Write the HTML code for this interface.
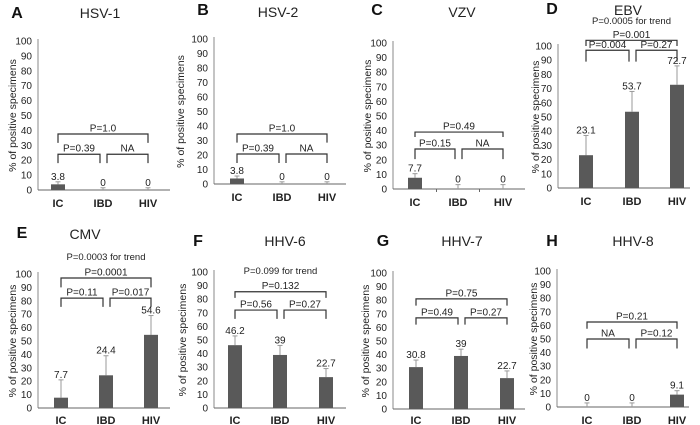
<!DOCTYPE html>
<html><head><meta charset="utf-8"><style>
html,body{margin:0;padding:0;background:#fff;}
svg{display:block;font-family:"Liberation Sans",Arial,sans-serif;}
</style></head><body>
<svg id="fig" width="700" height="425" viewBox="0 0 700 425" xmlns="http://www.w3.org/2000/svg"></svg>
<script>
const categories = ["IC","IBD","HIV"];
const tickLabels = ["0","10","20","30","40","50","60","70","80","90","100"];
const titles = ["HSV-1","HSV-2","VZV","EBV","CMV","HHV-6","HHV-7","HHV-8"];
const letters = ["A","B","C","D","E","F","G","H"];
const valuesA = [3.8,0,0], errA = [5.5,1.5,1.5];
const valuesB = [3.8,0,0], errB = [5.5,1.5,1.5];
const valuesC = [7.7,0,0], errC = [10.5,3,3];
const valuesD = [23.1,53.7,72.7], errD = [37,68,86];
const valuesE = [7.7,24.4,54.6], errE = [21,39,69];
const valuesF = [46.2,39,22.7], errF = [53,46,29];
const valuesG = [30.8,39,22.7], errG = [36,44,28];
const valuesH = [0,0,9.1], errH = [3,3,12];
const valueLabelsA = ["3.8","0","0"], valueLabelsB = ["3.8","0","0"], valueLabelsC = ["7.7","0","0"];
const valueLabelsD = ["23.1","53.7","72.7"], valueLabelsE = ["7.7","24.4","54.6"];
const valueLabelsF = ["46.2","39","22.7"], valueLabelsG = ["30.8","39","22.7"], valueLabelsH = ["0","0","9.1"];
// brackets: [from, to, level, legBottom, label]
const bracketsA = [[0,1,24,18,"P=0.39"],[1,2,24,18,"NA"],[0,2,37.6,31.6,"P=1.0"]];
const bracketsB = [[0,1,20.7,14.5,"P=0.39"],[1,2,20.7,14.5,"NA"],[0,2,34.5,28.5,"P=1.0"]];
const bracketsC = [[0,1,27.4,20.5,"P=0.15"],[1,2,27.4,20.5,"NA"],[0,2,39,35.6,"P=0.49"]];
const bracketsD = [[0,1,97,89,"P=0.004"],[1,2,97,89,"P=0.27"],[0,2,104,100,"P=0.001"]];
const bracketsE = [[0,1,82,75.5,"P=0.11"],[1,2,82,75.5,"P=0.017"],[0,2,97,90,"P=0.0001"]];
const bracketsF = [[0,1,72,65.5,"P=0.56"],[1,2,72,65.5,"P=0.27"],[0,2,85.5,81,"P=0.132"]];
const bracketsG = [[0,1,67,62,"P=0.49"],[1,2,67,62,"P=0.27"],[0,2,81,76,"P=0.75"]];
const bracketsH = [[0,1,50,43,"NA"],[1,2,50,43,"P=0.12"],[0,2,62.5,57.5,"P=0.21"]];
const trendLabels = ["","","","P=0.0005 for trend","P=0.0003 for trend","P=0.099 for trend","",""];

const values=[valuesA,valuesB,valuesC,valuesD,valuesE,valuesF,valuesG,valuesH];
const errs=[errA,errB,errC,errD,errE,errF,errG,errH];
const vlabels=[valueLabelsA,valueLabelsB,valueLabelsC,valueLabelsD,valueLabelsE,valueLabelsF,valueLabelsG,valueLabelsH];
const brackets=[bracketsA,bracketsB,bracketsC,bracketsD,bracketsE,bracketsF,bracketsG,bracketsH];
const layout=[
 {ax:38,y0:190,y1:41,cx:[58,103,148],yl:12,lx:17,ly:18,tx:100,ty:18,cy:207,tr:0},
 {ax:214,y0:184,y1:39,cx:[237,282,327],yl:180,lx:203,ly:15,tx:278,ty:17,cy:201,tr:0},
 {ax:393,y0:189,y1:43,cx:[415,458,503],yl:367,lx:377,ly:15,tx:462,ty:17,cy:206,tr:0,ticks:true},
 {ax:558,y0:188,y1:46,cx:[586,632,677],yl:535,lx:552,ly:14,tx:628,ty:15,cy:205,tr:24},
 {ax:38,y0:408,y1:274,cx:[61,106,151],yl:12,lx:22,ly:238,tx:85,ty:239,cy:424,tr:260},
 {ax:214,y0:408,y1:272,cx:[235,280,326],yl:182,lx:198,ly:246,tx:285,ty:246,cy:424,tr:274},
 {ax:393,y0:409,y1:273,cx:[416,461,507],yl:365,lx:383,ly:246,tx:462,ty:246,cy:424,tr:0},
 {ax:557,y0:407,y1:271,cx:[587,632,677],yl:533,lx:552,ly:246,tx:633,ty:246,cy:424,tr:0}
];
const NS="http://www.w3.org/2000/svg";
const svg=document.getElementById('fig');
function mk(tag,attrs,parent,text){const e=document.createElementNS(NS,tag);for(const k in attrs)e.setAttribute(k,attrs[k]);if(text!==undefined)e.textContent=text;(parent||svg).appendChild(e);return e;}
layout.forEach((L,p)=>{
  const g=mk('g',{});
  
  
  const y=v=>L.y0-(L.y0-L.y1)*v/100;
  const t1=mk('text',{x:L.lx,y:L.ly,'font-size':16,'font-weight':'bold','text-anchor':'middle',fill:'#111'},g,letters[p]);
  
  
  const t2=mk('text',{x:L.tx,y:L.ty,'font-size':14,'text-anchor':'middle',fill:'#222'},g,titles[p]);
  
  
  if(trendLabels[p]){const tt=mk('text',{x:(L.cx[0]+L.cx[2])/2,y:L.tr,'font-size':9.5,'text-anchor':'middle',fill:'#222'},g,trendLabels[p]);
    
    }
  const yl=mk('text',{x:0,y:0,'font-size':10.5,'text-anchor':'middle',fill:'#222',transform:`translate(${L.yl+4},${(L.y0+L.y1)/2}) rotate(-90)`},g,p===2?"% of      positive specimens":"% of positive specimens");
  
  
  tickLabels.forEach((lab,i)=>{const tk=mk('text',{x:L.ax-6,y:y(i*10)+3.5,'font-size':10,'text-anchor':'end',fill:'#222'},g,lab);
    
    });
  const ya=mk('line',{x1:L.ax,x2:L.ax,y1:L.y1-2,y2:L.y0,stroke:'#888','stroke-width':1},g);
  
  
  const xa=mk('line',{x1:L.ax,x2:L.ax+132,y1:L.y0,y2:L.y0,stroke:'#666','stroke-width':1},g);
  
  
  if(L.ticks){[0.5,1.5].forEach(f=>{const a=L.cx[0]+(L.cx[1]-L.cx[0])*f;mk('line',{x1:a,x2:a,y1:L.y0,y2:L.y0+3,stroke:'#666'},g);});}
  categories.forEach((c,i)=>{
    const cx=L.cx[i],v=values[p][i],e=errs[p][i];
    const el=mk('line',{x1:cx,x2:cx,y1:y(e),y2:y(v),stroke:'#999','stroke-width':1},g);
    
    
    mk('line',{x1:cx-2.5,x2:cx+2.5,y1:y(e),y2:y(e),stroke:'#999','stroke-width':1},g);
    const b=mk('rect',{x:cx-7,y:y(v),width:14,height:Math.max(0,L.y0-y(v)),fill:'#595959'},g);
    
    
    const vl=mk('text',{x:cx,y:y(e)-2,'font-size':10,'text-anchor':'middle',fill:'#222'},g,vlabels[p][i]);
    
    
    const cl=mk('text',{x:cx,y:L.cy,'font-size':11,'font-weight':'bold','text-anchor':'middle',fill:'#222'},g,c);
    
    
  });
  brackets[p].forEach(br=>{
    const [a,b,lv,lg,lab]=br;
    let xa1=L.cx[a],xb=L.cx[b];
    if(b-a===1){ if(a===0) xb-=3; else xa1+=4; }
    const pth=mk('path',{d:`M${xa1},${y(lg)}V${y(lv)}H${xb}V${y(lg)}`,fill:'none',stroke:'#333','stroke-width':1.2},g);
    
    
    const pl=mk('text',{x:(xa1+xb)/2,y:y(lv)-2.5,'font-size':10,'text-anchor':'middle',fill:'#222'},g,lab);
    
    
  });
});
</script>
</body></html>
